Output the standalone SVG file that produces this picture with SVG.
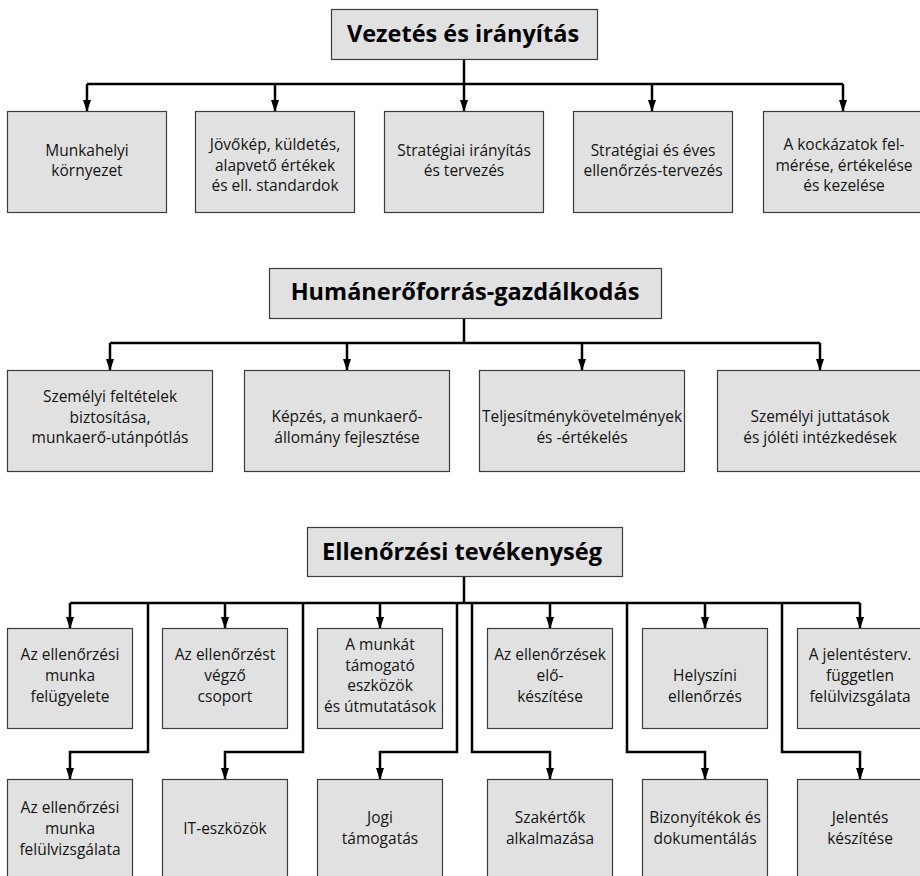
<svg xmlns="http://www.w3.org/2000/svg" width="920" height="876" viewBox="0 0 920 876">
<defs>
<style>
.box{fill:#e1e1e1;stroke:#3c3c3c;stroke-width:1.2}
.t{font-family:"Open Sans","Noto Sans","Liberation Sans",sans-serif;font-size:15.5px;text-anchor:middle;fill:#141414}
.h{font-family:"Open Sans","Noto Sans","Liberation Sans",sans-serif;font-size:23.5px;font-weight:bold;text-anchor:middle;fill:#000}
.c{stroke:#000;stroke-width:2.5;fill:none}
.a{stroke:#000;stroke-width:2.5;fill:none;marker-end:url(#arr)}
</style>
<marker id="arr" viewBox="0 0 12 8" refX="11" refY="4" markerWidth="12" markerHeight="8" markerUnits="userSpaceOnUse" orient="auto">
<path d="M0,0 L12,4 L0,8 z" fill="#000"/>
</marker>
</defs>
<rect width="920" height="876" fill="#fff"/>

<g id="connectors">
<path class="c" d="M464,59 V84 M87,84 H843"/>
<path class="a" d="M87,84 V111"/>
<path class="a" d="M275,84 V111"/>
<path class="a" d="M464,84 V111"/>
<path class="a" d="M652,84 V111"/>
<path class="a" d="M843,84 V111"/>
<path class="c" d="M464,318 V343 M110,343 H820"/>
<path class="a" d="M110,343 V370"/>
<path class="a" d="M347,343 V370"/>
<path class="a" d="M582,343 V370"/>
<path class="a" d="M820,343 V370"/>
<path class="c" d="M464,576 V603 M70,603 H860"/>
<path class="a" d="M70,603 V628"/>
<path class="a" d="M225,603 V628"/>
<path class="a" d="M380,603 V628"/>
<path class="a" d="M550,603 V628"/>
<path class="a" d="M705,603 V628"/>
<path class="a" d="M860,603 V628"/>
<path class="a" d="M148,603 V752 H70 V779"/>
<path class="a" d="M303,603 V752 H225 V779"/>
<path class="a" d="M457,603 V752 H380 V779"/>
<path class="a" d="M472,603 V752 H550 V779"/>
<path class="a" d="M627,603 V752 H705 V779"/>
<path class="a" d="M782,603 V752 H860 V779"/>
</g>

<g id="vezetes">
<rect class="box" x="331.5" y="9.5" width="266" height="50"/>
<text class="h" x="463" y="42">Vezetés és irányítás</text>
</g>
<g id="munkahelyi">
<rect class="box" x="7.5" y="111.5" width="159" height="101"/>
<text class="t" x="87" y="155.5"><tspan x="87">Munkahelyi</tspan><tspan x="87" dy="20.5">környezet</tspan></text>
</g>
<g id="jovokep">
<rect class="box" x="195.5" y="111.5" width="159" height="101"/>
<text class="t" x="275" y="150"><tspan x="275">Jövőkép, küldetés,</tspan><tspan x="275" dy="20.5">alapvető értékek</tspan><tspan x="275" dy="20.5">és ell. standardok</tspan></text>
</g>
<g id="strat-iranyitas">
<rect class="box" x="384.5" y="111.5" width="159" height="101"/>
<text class="t" x="464" y="155.5"><tspan x="464">Stratégiai irányítás</tspan><tspan x="464" dy="20.5">és tervezés</tspan></text>
</g>
<g id="strat-eves">
<rect class="box" x="573.5" y="111.5" width="159" height="101"/>
<text class="t" x="653" y="155.5"><tspan x="653">Stratégiai és éves</tspan><tspan x="653" dy="20.5">ellenőrzés-tervezés</tspan></text>
</g>
<g id="kockazatok">
<rect class="box" x="763.5" y="111.5" width="161" height="101"/>
<text class="t" x="844" y="150"><tspan x="844">A kockázatok fel-</tspan><tspan x="844" dy="20.5">mérése, értékelése</tspan><tspan x="844" dy="20.5">és kezelése</tspan></text>
</g>

<g id="human">
<rect class="box" x="269.5" y="268.5" width="392" height="50"/>
<text class="h" x="465" y="300">Humánerőforrás-gazdálkodás</text>
</g>
<g id="szemelyi-feltetelek">
<rect class="box" x="7.5" y="370.5" width="205" height="101"/>
<text class="t" x="110" y="402"><tspan x="110">Személyi feltételek</tspan><tspan x="110" dy="20.5">biztosítása,</tspan><tspan x="110" dy="20.5">munkaerő-utánpótlás</tspan></text>
</g>
<g id="kepzes">
<rect class="box" x="244.5" y="370.5" width="205" height="101"/>
<text class="t" x="347" y="422"><tspan x="347">Képzés, a munkaerő-</tspan><tspan x="347" dy="20.5">állomány fejlesztése</tspan></text>
</g>
<g id="teljesitmeny">
<rect class="box" x="479.5" y="370.5" width="205" height="101"/>
<text class="t" x="582" y="422"><tspan x="582">Teljesítménykövetelmények</tspan><tspan x="582" dy="20.5">és -értékelés</tspan></text>
</g>
<g id="juttatasok">
<rect class="box" x="717.5" y="370.5" width="206" height="101"/>
<text class="t" x="820" y="422"><tspan x="820">Személyi juttatások</tspan><tspan x="820" dy="20.5">és jóléti intézkedések</tspan></text>
</g>

<g id="ellenorzesi">
<rect class="box" x="307.5" y="527.5" width="315" height="49"/>
<text class="h" x="462" y="560">Ellenőrzési tevékenység</text>
</g>
<g id="felugyelet">
<rect class="box" x="7.5" y="628.5" width="125" height="100"/>
<text class="t" x="70" y="660"><tspan x="70">Az ellenőrzési</tspan><tspan x="70" dy="21">munka</tspan><tspan x="70" dy="21">felügyelete</tspan></text>
</g>
<g id="csoport">
<rect class="box" x="162.5" y="628.5" width="125" height="100"/>
<text class="t" x="225" y="660"><tspan x="225">Az ellenőrzést</tspan><tspan x="225" dy="21">végző</tspan><tspan x="225" dy="21">csoport</tspan></text>
</g>
<g id="eszkozok">
<rect class="box" x="317.5" y="628.5" width="125" height="100"/>
<text class="t" x="380" y="650"><tspan x="380">A munkát</tspan><tspan x="380" dy="20.5">támogató</tspan><tspan x="380" dy="20.5">eszközök</tspan><tspan x="380" dy="20.5">és útmutatások</tspan></text>
</g>
<g id="elokeszites">
<rect class="box" x="487.5" y="628.5" width="125" height="100"/>
<text class="t" x="550" y="660"><tspan x="550">Az ellenőrzések</tspan><tspan x="550" dy="21">elő-</tspan><tspan x="550" dy="21">készítése</tspan></text>
</g>
<g id="helyszini">
<rect class="box" x="642.5" y="628.5" width="125" height="100"/>
<text class="t" x="705" y="681"><tspan x="705">Helyszíni</tspan><tspan x="705" dy="21">ellenőrzés</tspan></text>
</g>
<g id="jelentesterv">
<rect class="box" x="797.5" y="628.5" width="126" height="100"/>
<text class="t" x="860" y="660"><tspan x="860">A jelentésterv.</tspan><tspan x="860" dy="21">független</tspan><tspan x="860" dy="21">felülvizsgálata</tspan></text>
</g>
<g id="felulvizsgalat">
<rect class="box" x="7.5" y="779.5" width="125" height="104"/>
<text class="t" x="70" y="813"><tspan x="70">Az ellenőrzési</tspan><tspan x="70" dy="21">munka</tspan><tspan x="70" dy="21">felülvizsgálata</tspan></text>
</g>
<g id="it-eszkozok">
<rect class="box" x="162.5" y="779.5" width="125" height="104"/>
<text class="t" x="225" y="834">IT-eszközök</text>
</g>
<g id="jogi">
<rect class="box" x="317.5" y="779.5" width="125" height="104"/>
<text class="t" x="380" y="823"><tspan x="380">Jogi</tspan><tspan x="380" dy="21">támogatás</tspan></text>
</g>
<g id="szakertok">
<rect class="box" x="487.5" y="779.5" width="125" height="104"/>
<text class="t" x="550" y="823"><tspan x="550">Szakértők</tspan><tspan x="550" dy="21">alkalmazása</tspan></text>
</g>
<g id="bizonyitekok">
<rect class="box" x="642.5" y="779.5" width="125" height="104"/>
<text class="t" x="705" y="823"><tspan x="705">Bizonyítékok és</tspan><tspan x="705" dy="21">dokumentálás</tspan></text>
</g>
<g id="jelentes">
<rect class="box" x="797.5" y="779.5" width="126" height="104"/>
<text class="t" x="860" y="823"><tspan x="860">Jelentés</tspan><tspan x="860" dy="21">készítése</tspan></text>
</g>
</svg>
